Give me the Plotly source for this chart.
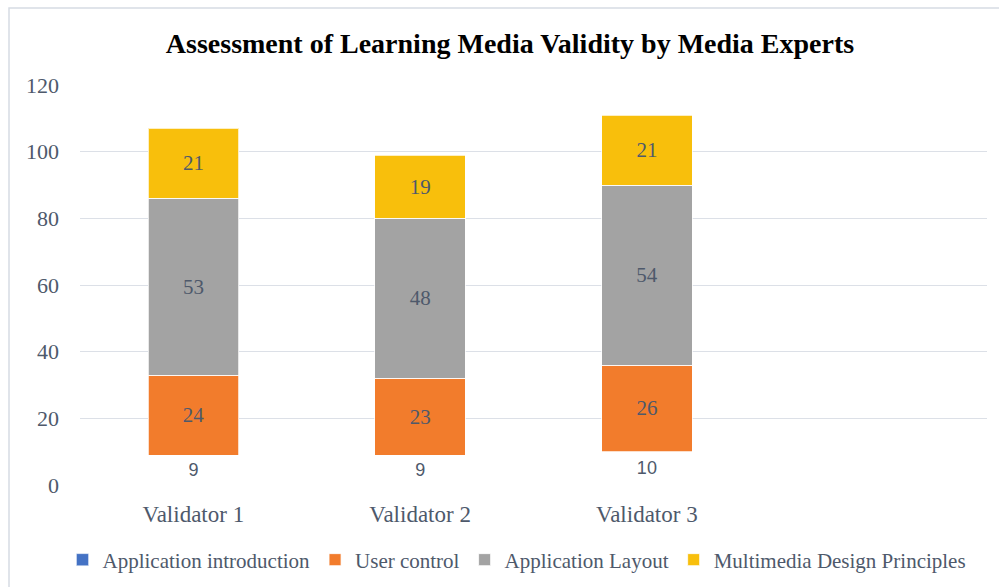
import plotly.graph_objects as go

# Scores per validator for each assessment aspect
validators = ["Validator 1", "Validator 2", "Validator 3"]
app_intro = [9, 9, 10]
user_control = [24, 23, 26]
app_layout = [53, 48, 54]
multimedia = [21, 19, 21]

series_names = [
    "Application introduction",
    "User control",
    "Application Layout",
    "Multimedia Design Principles",
]
series_colors = ["#4472C4", "#F27C2C", "#A3A3A3", "#F8BF0C"]

W, H = 999, 587
L, R, T, B = 80, 12, 85, 102
plot_w = W - L - R
plot_h = H - T - B

serif = "Liberation Serif"
text_col = "#4E596B"

fig = go.Figure()

# Application introduction: drawn without fill, only its value shown
fig.add_trace(go.Bar(
    x=validators, y=app_intro, name=series_names[0],
    marker=dict(color="rgba(0,0,0,0)", line=dict(width=0)),
    text=app_intro, textposition="inside", insidetextanchor="middle",
    insidetextfont=dict(family="Liberation Sans", size=18, color=text_col),
    showlegend=False, hoverinfo="x+y+name",
))

# legend key for the unfilled series
fig.add_trace(go.Bar(
    x=[validators[0]], y=[None], name=series_names[0],
    marker=dict(color=series_colors[0]),
    showlegend=True, hoverinfo="skip",
))

for name, vals, col in zip(series_names[1:], [user_control, app_layout, multimedia],
                           series_colors[1:]):
    fig.add_trace(go.Bar(
        x=validators, y=vals, name=name,
        marker=dict(color=col, line=dict(color="rgba(255,255,255,0.75)", width=1)),
        text=vals, textposition="inside", insidetextanchor="middle",
        insidetextfont=dict(family=serif, size=21, color=text_col),
    ))

fig.update_layout(
    width=W, height=H,
    margin=dict(l=L, r=R, t=T, b=B, autoexpand=False),
    paper_bgcolor="white", plot_bgcolor="white",
    barmode="stack", bargap=0.6,
    title=dict(
        text="<b>Assessment of Learning Media Validity by Media Experts</b>",
        x=510 / W, xref="container", xanchor="center",
        y=1 - 43 / H, yref="container", yanchor="middle",
        font=dict(family=serif, size=28, color="black"),
    ),
    legend=dict(
        orientation="h", x=(517 - L) / plot_w, xanchor="center",
        y=-(560 - (T + plot_h)) / plot_h, yanchor="middle",
        font=dict(family=serif, size=21, color=text_col),
        itemwidth=30, traceorder="normal",
    ),
    showlegend=True,
)

fig.update_xaxes(
    type="category", range=[-0.5, 3.5],
    showline=False, showgrid=False, zeroline=False, ticks="",
    tickfont=dict(family=serif, size=23, color=text_col),
    ticklabelstandoff=13,
)
fig.update_yaxes(
    range=[0, 120], dtick=20,
    showline=False, zeroline=False,
    gridcolor="#DCE0E7", gridwidth=1.3,
    tickfont=dict(family=serif, size=22, color=text_col),
    ticklabelstandoff=20,
)

# chart frame
fig.add_shape(
    type="rect", xref="paper", yref="paper", layer="below",
    x0=(9 - L) / plot_w, x1=(1010 - L) / plot_w,
    y0=-(600 - (T + plot_h)) / plot_h, y1=((T + plot_h) - 8) / plot_h,
    line=dict(color="#D6DCE4", width=1.5), fillcolor="rgba(0,0,0,0)",
)

fig.write_html("out.html")
